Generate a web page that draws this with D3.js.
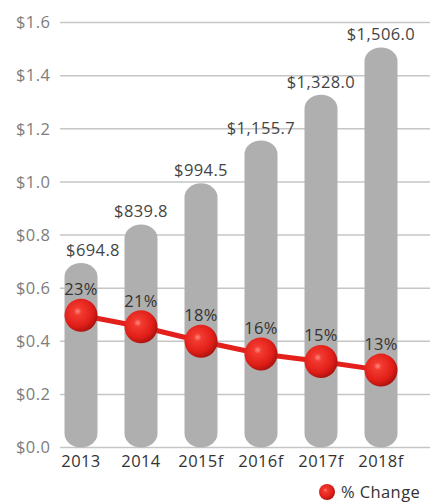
<!DOCTYPE html>
<html>
<head>
<meta charset="utf-8">
<script src="https://cdn.jsdelivr.net/npm/d3@7"></script>
<style>
  body { margin: 0; background: #fff; }
  text { font-family: "Open Sans", Lato, sans-serif; letter-spacing: 0.4px; }
</style>
</head>
<body>
<div id="chart"></div>
<script>
// data
years = ["2013", "2014", "2015f", "2016f", "2017f", "2018f"]
revenue = [694.8, 839.8, 994.5, 1155.7, 1328.0, 1506.0]   // $ millions
pctChange = [22.9, 20.9, 18.4, 16.2, 14.9, 13.4]          // %
pctLabels = ["23%", "21%", "18%", "16%", "15%", "13%"]
yTicks = [0, 0.2, 0.4, 0.6, 0.8, 1.0, 1.2, 1.4, 1.6]
legendLabel = "% Change"

const width = 442, height = 504
const svg = d3.select("#chart").append("svg")
  .attr("width", width).attr("height", height)

// gradient for the shiny red balls
const defs = svg.append("defs")
const grad = defs.append("radialGradient").attr("id", "ball")
  .attr("cx", "40%").attr("cy", "38%").attr("r", "65%")
grad.append("stop").attr("offset", "0%").attr("stop-color", "#ff8a80")
grad.append("stop").attr("offset", "18%").attr("stop-color", "#f23a30")
grad.append("stop").attr("offset", "70%").attr("stop-color", "#e01e18")
grad.append("stop").attr("offset", "100%").attr("stop-color", "#a8120e")

// scales
const x = d3.scalePoint().domain(years).range([81, 381])
const y = d3.scaleLinear().domain([0, 1.6]).range([447.5, 22.5])
const yPct = d3.scaleLinear().domain([0, 73.6]).range([447.5, 22.5])
const barW = 33

// gridlines + y labels
svg.append("g").selectAll("line")
  .data(yTicks)
  .join("line")
  .attr("x1", 60).attr("x2", 430)
  .attr("y1", d => y(d)).attr("y2", d => y(d))
  .attr("stroke", "#c6c6c6").attr("stroke-width", 1.5)

svg.append("g").selectAll("text")
  .data(yTicks)
  .join("text")
  .attr("x", 16).attr("y", d => y(d))
  .attr("dy", "0.35em")
  .attr("fill", "#7d7d7d")
  .style("font-size", "16.5px")
  .text(d => "$" + d.toFixed(1))

// bars (rounded both ends)
svg.append("g").selectAll("rect")
  .data(revenue)
  .join("rect")
  .attr("x", (d, i) => x(years[i]) - barW / 2)
  .attr("width", barW)
  .attr("y", d => y(d / 1000))
  .attr("height", d => y(0) - y(d / 1000))
  .attr("rx", barW / 2).attr("ry", 14)
  .attr("fill", "#afafaf")

// value labels
svg.append("g").selectAll("text")
  .data(revenue)
  .join("text")
  .attr("x", (d, i) => x(years[i]) + (i == 0 ? 12 : 0))
  .attr("y", d => y(d / 1000) - 7)
  .attr("text-anchor", "middle")
  .attr("fill", "#444")
  .style("font-size", "16.5px")
  .text(d => "$" + d3.format(",.1f")(d))

// x labels
svg.append("g").selectAll("text")
  .data(years)
  .join("text")
  .attr("x", d => x(d)).attr("y", 467)
  .attr("text-anchor", "middle")
  .attr("fill", "#333")
  .style("font-size", "16.5px")
  .text(d => d)

// % change line
const line = d3.line()
  .x((d, i) => x(years[i]))
  .y(d => yPct(d))
svg.append("path")
  .datum(pctChange)
  .attr("d", line)
  .attr("fill", "none")
  .attr("stroke", "#e3201b")
  .attr("stroke-width", 5)

svg.append("g").selectAll("circle")
  .data(pctChange)
  .join("circle")
  .attr("cx", (d, i) => x(years[i]))
  .attr("cy", d => yPct(d))
  .attr("r", 16.5)
  .attr("fill", "url(#ball)")

svg.append("g").selectAll("text")
  .data(pctChange)
  .join("text")
  .attr("x", (d, i) => x(years[i]))
  .attr("y", d => yPct(d) - 20)
  .attr("text-anchor", "middle")
  .attr("fill", "#333")
  .style("font-size", "16.5px")
  .text((d, i) => pctLabels[i])

// legend
svg.append("circle").attr("cx", 327).attr("cy", 492).attr("r", 8)
  .attr("fill", "url(#ball)")
svg.append("text").attr("x", 341).attr("y", 492).attr("dy", "0.35em")
  .attr("fill", "#333").style("font-size", "16.5px")
  .text(legendLabel)
</script>
</body>
</html>
